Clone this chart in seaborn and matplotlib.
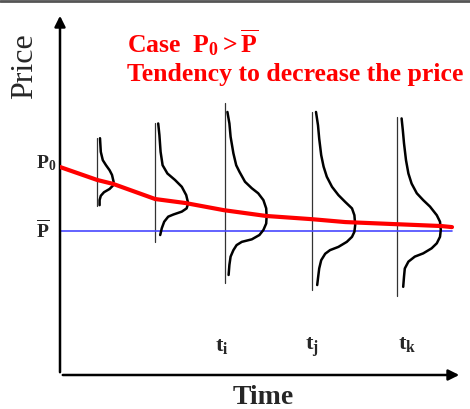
import numpy as np
import pandas as pd
import seaborn as sns
import matplotlib.pyplot as plt
from matplotlib.lines import Line2D

sns.set_theme(style='white')
plt.rcParams['font.family'] = ['Liberation Serif', 'DejaVu Serif']
plt.rcParams['mathtext.fontset'] = 'custom'
plt.rcParams['mathtext.rm'] = 'Liberation Serif'
plt.rcParams['mathtext.bf'] = 'Liberation Serif:bold'
plt.rcParams['mathtext.it'] = 'Liberation Serif:italic'

# mean price path (red)
path_t = [0, 0.93, 1.33, 2.38, 3.13, 4.10, 5.15, 6.30, 7.13, 8.43, 9.53, 9.80]
path_p = [5.78, 5.42, 5.31, 4.89, 4.78, 4.58, 4.42, 4.33, 4.25, 4.19, 4.14, 4.11]
p_bar = 4.0
t_end = 9.80

# distributions at five times: base time, vertical extent, curve (width, price)
dist_t = [0.92, 2.375, 4.125, 6.31, 8.43]
dist_lo = [4.70, 3.70, 2.56, 2.36, 2.19]
dist_hi = [6.59, 7.00, 7.56, 7.31, 7.17]
dist1_w = [0.08, 0.10, 0.15, 0.23, 0.32, 0.38, 0.42, 0.40, 0.32, 0.18, 0.10, 0.07, 0.07]
dist1_p = [6.58, 6.20, 5.97, 5.83, 5.69, 5.56, 5.37, 5.26, 5.17, 5.08, 4.98, 4.86, 4.72]
dist2_w = [0.08, 0.11, 0.14, 0.19, 0.31, 0.50, 0.67, 0.78, 0.83, 0.79, 0.67, 0.46, 0.33,
           0.23, 0.17, 0.13]
dist2_p = [6.99, 6.67, 6.20, 5.83, 5.60, 5.42, 5.23, 5.00, 4.77, 4.63, 4.54, 4.46, 4.40,
           4.26, 4.08, 3.89]
dist3_w = [0.06, 0.11, 0.14, 0.21, 0.28, 0.36, 0.50, 0.67, 0.83, 0.96, 1.03, 1.04, 1.03,
           0.96, 0.86, 0.67, 0.42, 0.29, 0.21, 0.14, 0.11, 0.09]
dist3_p = [7.31, 6.99, 6.62, 6.16, 5.83, 5.65, 5.37, 5.19, 5.05, 4.86, 4.63, 4.40, 4.21,
           4.03, 3.89, 3.77, 3.70, 3.61, 3.47, 3.29, 3.06, 2.78]
dist4_w = [0.09, 0.14, 0.17, 0.22, 0.28, 0.36, 0.49, 0.65, 0.82, 0.99, 1.05, 1.07, 1.05,
           0.99, 0.86, 0.65, 0.44, 0.32, 0.22, 0.17, 0.14, 0.12]
dist4_p = [7.31, 6.94, 6.57, 6.11, 5.79, 5.51, 5.23, 5.00, 4.81, 4.63, 4.44, 4.17, 3.98,
           3.84, 3.70, 3.56, 3.47, 3.37, 3.19, 2.96, 2.69, 2.50]
dist5_w = [0.11, 0.14, 0.17, 0.22, 0.28, 0.36, 0.49, 0.65, 0.82, 0.99, 1.07, 1.09, 1.07,
           0.99, 0.86, 0.65, 0.44, 0.28, 0.19, 0.17, 0.15]
dist5_p = [7.13, 6.81, 6.44, 5.97, 5.60, 5.32, 5.05, 4.86, 4.68, 4.44, 4.26, 4.03, 3.84,
           3.66, 3.52, 3.38, 3.29, 3.15, 2.96, 2.73, 2.45]
dist_w = [dist1_w, dist2_w, dist3_w, dist4_w, dist5_w]
dist_p = [dist1_p, dist2_p, dist3_p, dist4_p, dist5_p]

time_labels = [r'$\mathbf{t_i}$', r'$\mathbf{t_j}$', r'$\mathbf{t_k}$']

W, H = 470, 409
fig = plt.figure(figsize=(W / 100, H / 100), dpi=100)
ax = fig.add_axes([60 / W, 34 / H, 402 / W, 362 / H])
ax.set_xlim(0, 10.05)
ax.set_ylim(0, 10.06)
ax.set_xticks([])
ax.set_yticks([])
for s in ax.spines.values():
    s.set_visible(False)


def px(x, y):
    return x / W, 1 - y / H


# axes with arrows
ax.annotate('', xy=(0, 1), xytext=(0, 0), xycoords='axes fraction',
            arrowprops=dict(arrowstyle='-|>', lw=1.8, color='black', mutation_scale=16))
ax.annotate('', xy=(1, 0), xytext=(0, 0), xycoords='axes fraction',
            arrowprops=dict(arrowstyle='-|>', lw=1.8, color='black', mutation_scale=16))

# equilibrium price
ax.plot([0, t_end], [p_bar, p_bar], color='#4848ff', lw=1.2, zorder=2)

# distributions
for i in range(len(dist_t)):
    ax.plot([dist_t[i], dist_t[i]], [dist_lo[i], dist_hi[i]], color='#333333', lw=0.9, zorder=1)
    df = pd.DataFrame({'t': dist_t[i] + np.array(dist_w[i]), 'p': dist_p[i]})
    sns.lineplot(data=df, x='t', y='p', sort=False, estimator=None, color='black',
                 lw=1.8, ax=ax, zorder=3)

# price path
df_path = pd.DataFrame({'t': path_t, 'p': path_p})
sns.lineplot(data=df_path, x='t', y='p', sort=False, estimator=None, color='#ff0000',
             lw=3.0, ax=ax, zorder=4)
ax.set_xlabel('')
ax.set_ylabel('')

# labels
fig.text(*px(25, 66), 'Price', rotation=90, fontsize=23, ha='center', va='center')
fig.text(*px(263, 398), 'Time', fontsize=20, fontweight='bold', ha='center', va='center')
fig.text(*px(46, 163), r'$\mathbf{P_0}$', fontsize=14, ha='center', va='center')
fig.text(*px(43, 230), r'$\overline{\mathbf{P}}$', fontsize=14, ha='center', va='center')
fig.text(*px(127, 43), r'Case  $\mathbf{P_0 > \overline{P}}$', fontsize=18.5,
         fontweight='bold', color='#ff0000', ha='left', va='center')
fig.text(*px(127, 75), 'Tendency to decrease the price', fontsize=18.5,
         fontweight='bold', color='#ff0000', ha='left', va='center')
for lab, (x, y) in zip(time_labels, [(222, 347), (312, 347), (407, 345)]):
    fig.text(*px(x, y), lab, fontsize=16, ha='center', va='center')

# grey frame line at the top
fig.add_artist(Line2D([0, 1], [1 - 1 / H, 1 - 1 / H], color='#555555', lw=2))

fig.savefig('out.png', dpi=100)
